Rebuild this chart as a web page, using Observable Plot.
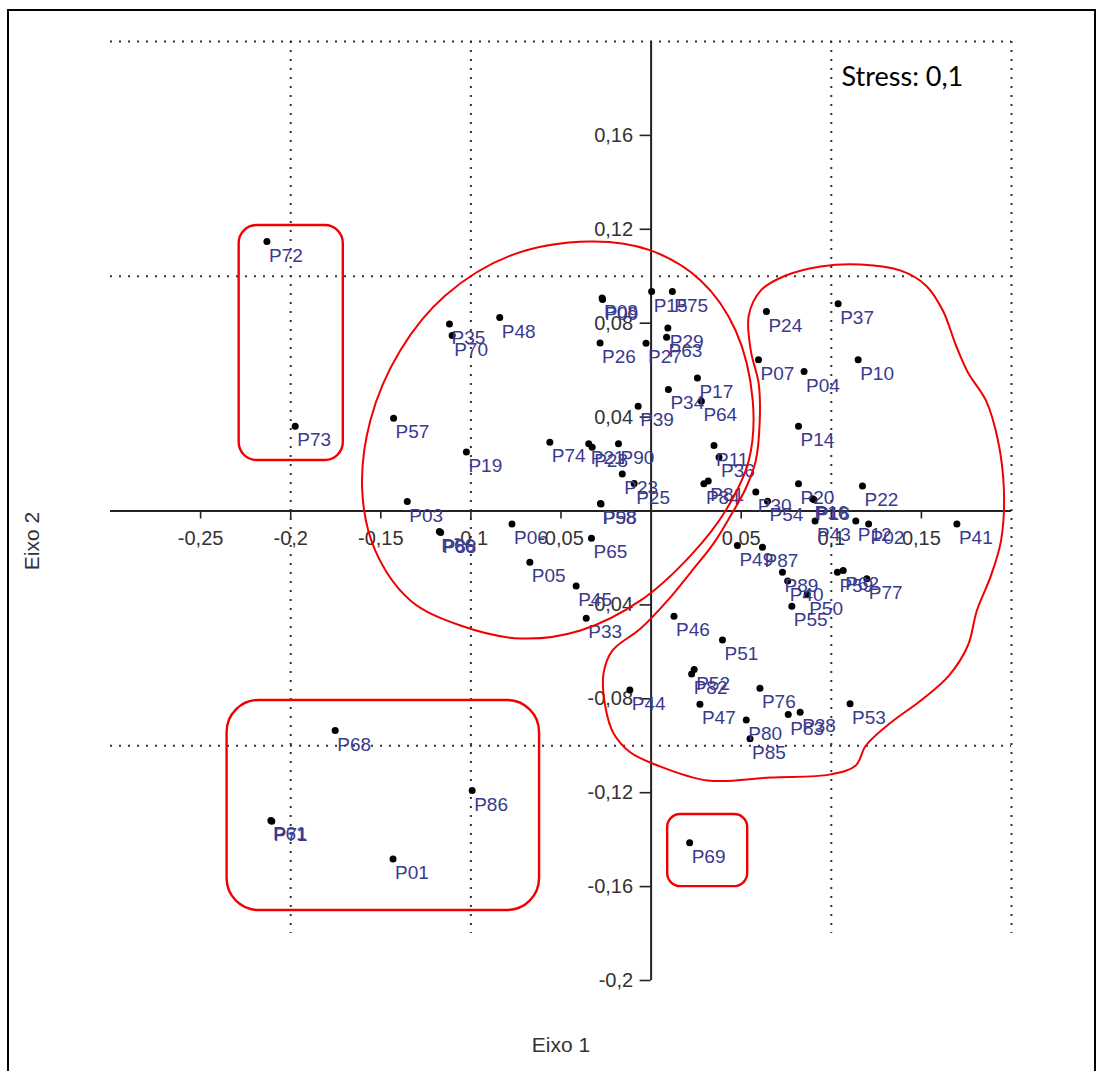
<!DOCTYPE html>
<html>
<head>
<meta charset="utf-8">
<script src="https://cdn.jsdelivr.net/npm/d3@7"></script>
<script src="https://cdn.jsdelivr.net/npm/@observablehq/plot@0.6"></script>
<style>
  html, body { margin: 0; padding: 0; background: #fff; }
  #wrap { position: relative; width: 1102px; height: 1071px; overflow: hidden; }
  #frame { position: absolute; left: 7px; top: 9px; width: 1089px; height: 1090px;
           border: 2px solid #000; box-sizing: border-box; pointer-events: none; }
  #chart svg { display: block; }
</style>
</head>
<body>
<div id="wrap"><div id="chart"></div><div id="frame"></div></div>
<script>
// NMDS ordination: sample ids and their scores on the two axes
const ids = ["P72","P73","P35","P70","P48","P57","P19","P03","P66","P88",
  "P06","P05","P45","P33","P65","P74","P21","P28","P90","P23",
  "P25","P58","P98","P39","P26","P08","P09","P15","P75","P29",
  "P63","P27","P17","P34","P64","P11","P36","P84","P81","P30",
  "P54","P24","P37","P07","P04","P10","P14","P20","P22","P16",
  "P18","P43","P12","P02","P41","P49","P87","P89","P40","P50",
  "P55","P59","P62","P77","P46","P51","P52","P82","P44","P76",
  "P47","P80","P85","P83","P38","P53","P68","P86","P61","P71",
  "P01","P69"];
const eixo1 = [-0.2132,-0.1975,-0.1119,-0.1104,-0.0840,-0.1429,-0.1025,-0.1353,-0.1175,-0.1168,
  -0.0772,-0.0673,-0.0416,-0.0360,-0.0331,-0.0562,-0.0346,-0.0327,-0.0181,-0.0160,
  -0.0094,-0.0281,-0.0278,-0.0072,-0.0283,-0.0272,-0.0269,0.0003,0.0118,0.0093,
  0.0086,-0.0028,0.0257,0.0096,0.0279,0.0349,0.0377,0.0293,0.0317,0.0581,
  0.0646,0.0640,0.1038,0.0596,0.0849,0.1149,0.0818,0.0818,0.1173,0.0896,
  0.0904,0.0910,0.1136,0.1207,0.1697,0.0479,0.0618,0.0729,0.0758,0.0866,
  0.0781,0.1034,0.1066,0.1197,0.0127,0.0396,0.0239,0.0225,-0.0118,0.0604,
  0.0271,0.0528,0.0549,0.0761,0.0827,0.1104,-0.1753,-0.0993,-0.2110,-0.2105,
  -0.1432,0.0214];
const eixo2 = [0.1148,0.0361,0.0797,0.0748,0.0824,0.0395,0.0251,0.0040,-0.0087,-0.0092,
  -0.0055,-0.0218,-0.0320,-0.0457,-0.0116,0.0293,0.0286,0.0272,0.0286,0.0158,
  0.0117,0.0032,0.0030,0.0446,0.0716,0.0907,0.0901,0.0935,0.0935,0.0780,
  0.0740,0.0715,0.0567,0.0518,0.0468,0.0279,0.0229,0.0116,0.0128,0.0081,
  0.0042,0.0850,0.0883,0.0644,0.0594,0.0644,0.0361,0.0116,0.0106,0.0052,
  0.0048,-0.0043,-0.0043,-0.0055,-0.0055,-0.0147,-0.0154,-0.0261,-0.0298,-0.0356,
  -0.0406,-0.0261,-0.0253,-0.0289,-0.0448,-0.0550,-0.0675,-0.0694,-0.0762,-0.0755,
  -0.0823,-0.0890,-0.0970,-0.0867,-0.0857,-0.0821,-0.0935,-0.1191,-0.1318,-0.1322,
  -0.1482,-0.1413];

// axis ticks and dotted reference lines
const xTicks = [-0.25, -0.2, -0.15, -0.1, -0.05, 0.05, 0.1, 0.15];
const yTicks = [0.16, 0.12, 0.08, 0.04, -0.04, -0.08, -0.12, -0.16, -0.2];
const gridX = [-0.2, -0.1, 0.1, 0.2];
const gridY = [0.2, 0.1, -0.1];
const gridYExtent = [0.2, -0.18];

// group outlines: rounded boxes (x1, x2, y1, y2) ...
const boxX1 = [-0.2286, -0.2353, 0.0092];
const boxX2 = [-0.1708, -0.0619, 0.0536];
const boxY1 = [0.1216, -0.0807, -0.1293];
const boxY2 = [0.0215, -0.1702, -0.1600];
// ... and two freehand contours
const ellipseOutline = [[-0.0336,0.1148],[-0.0003,0.1110],[0.0275,0.0982],[0.0469,0.0769],[0.0564,0.0471],
  [0.0542,0.0215],[0.0414,0.0002],[0.0219,-0.0190],[-0.0058,-0.0381],[-0.0392,-0.0509],
  [-0.0725,-0.0543],[-0.1058,-0.0488],[-0.1336,-0.0381],[-0.1531,-0.0168],[-0.1603,0.0087],
  [-0.1558,0.0386],[-0.1392,0.0684],[-0.1142,0.0918],[-0.0781,0.1088]];
const blobOutline = [[0.1164,0.1050],[0.1386,0.1024],[0.1525,0.0961],[0.1619,0.0854],[0.1692,0.0705],
  [0.1758,0.0590],[0.1858,0.0471],[0.1925,0.0300],[0.1958,0.0087],[0.1942,-0.0126],
  [0.1886,-0.0275],[0.1808,-0.0424],[0.1758,-0.0573],[0.1653,-0.0701],[0.1497,-0.0807],
  [0.1331,-0.0901],[0.1192,-0.0999],[0.1136,-0.1084],[0.0997,-0.1122],[0.0664,-0.1135],
  [0.0314,-0.1148],[0.0036,-0.1084],[-0.0114,-0.1029],[-0.0208,-0.0948],[-0.0253,-0.0837],
  [-0.0264,-0.0692],[-0.0214,-0.0594],[-0.0058,-0.0501],[0.0092,-0.0381],[0.0219,-0.0262],
  [0.0347,-0.0138],[0.0442,-0.0019],[0.0525,0.0096],[0.0581,0.0215],[0.0603,0.0386],
  [0.0597,0.0543],[0.0553,0.0684],[0.0542,0.0833],[0.0608,0.0939],[0.0747,0.1003],
  [0.0942,0.1042]];

const points = ids.map((id, i) => ({id, x: eixo1[i], y: eixo2[i]}));
const boxes = boxX1.map((_, i) => ({x1: boxX1[i], x2: boxX2[i], y1: boxY1[i], y2: boxY2[i]}));
const fmt = d => String(d).replace(".", ",");

const RED = "#f20000";
const LABEL = "#3a3a8e";
const AXIS_TEXT = "#333";

const dotted = {stroke: "#333", strokeWidth: 2, strokeDasharray: "2 7"};

const chart = Plot.plot({
  width: 1102,
  height: 1071,
  marginLeft: 110,
  marginRight: 91,
  marginTop: 41,
  marginBottom: 91,
  x: {domain: [-0.3, 0.2], axis: null},
  y: {domain: [-0.2, 0.2], axis: null},
  style: {fontFamily: "'Liberation Sans', Arial, sans-serif", fontSize: "18px", background: "transparent", overflow: "visible"},
  marks: [
    // dotted reference lines
    Plot.ruleX(gridX, {x: d => d, y1: gridYExtent[0], y2: gridYExtent[1], ...dotted}),
    Plot.ruleY(gridY, {y: d => d, ...dotted}),
    // axes through the origin
    Plot.ruleY([0], {stroke: "#222", strokeWidth: 2}),
    Plot.ruleX([0], {stroke: "#222", strokeWidth: 2}),
    Plot.ruleX(xTicks, {x: d => d, y1: 0, y2: 0, insetBottom: -8, stroke: "#222", strokeWidth: 1.6}),
    Plot.ruleY(yTicks, {y: d => d, x1: 0, x2: 0, insetLeft: -11, stroke: "#222", strokeWidth: 1.6}),
    Plot.text(xTicks, {x: d => d, y: 0, text: fmt, dy: 28, lineAnchor: "middle", fill: AXIS_TEXT, fontSize: 20}),
    Plot.text(yTicks, {x: 0, y: d => d, text: fmt, dx: -18, textAnchor: "end", lineAnchor: "middle", fill: AXIS_TEXT, fontSize: 20}),
    // samples
    Plot.dot(points, {x: "x", y: "y", r: 3.5, fill: "#000", stroke: null}),
    Plot.text(points, {x: "x", y: "y", text: "id", dx: 2, dy: 14, textAnchor: "start", lineAnchor: "middle", fill: LABEL, fontSize: 19}),
    // group outlines
    Plot.rect([boxes[0]], {x1: "x1", x2: "x2", y1: "y1", y2: "y2", fill: "none", stroke: RED, strokeWidth: 2.4, rx: 18}),
    Plot.rect([boxes[1]], {x1: "x1", x2: "x2", y1: "y1", y2: "y2", fill: "none", stroke: RED, strokeWidth: 2.4, rx: 32}),
    Plot.rect([boxes[2]], {x1: "x1", x2: "x2", y1: "y1", y2: "y2", fill: "none", stroke: RED, strokeWidth: 2.4, rx: 13}),
    Plot.line(ellipseOutline, {x: d => d[0], y: d => d[1], curve: "catmull-rom-closed", stroke: RED, strokeWidth: 2}),
    Plot.line(blobOutline, {x: d => d[0], y: d => d[1], curve: "catmull-rom-closed", stroke: RED, strokeWidth: 2}),
    // axis titles and stress value
    Plot.text(["Eixo 1"], {frameAnchor: "bottom", dy: 65, textAnchor: "middle", lineAnchor: "middle", fill: AXIS_TEXT, fontSize: 21}),
    Plot.text(["Eixo 2"], {frameAnchor: "left", dx: -78, dy: 30, rotate: -90, textAnchor: "middle", lineAnchor: "middle", fill: AXIS_TEXT, fontSize: 21}),
    Plot.text(["Stress: 0,1"], {frameAnchor: "top-right", dx: -170, dy: 36, textAnchor: "start", lineAnchor: "middle", fill: "#000", fontSize: 27, fontFamily: "Lato"})
  ]
});
document.getElementById("chart").append(chart);
</script>
</body>
</html>
